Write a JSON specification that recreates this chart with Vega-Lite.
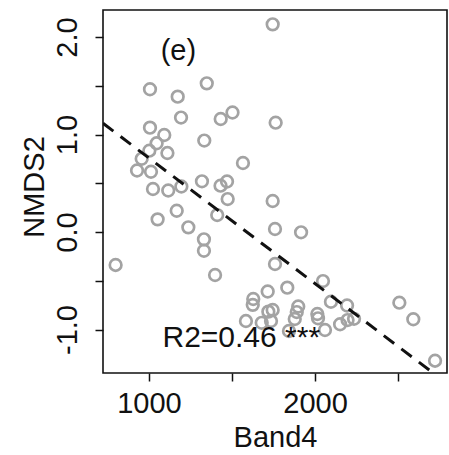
{
  "$schema": "https://vega.github.io/schema/vega-lite/v6.json",
  "width": 344,
  "height": 363,
  "autosize": {"type": "none"},
  "padding": {"left": 103, "top": 10, "right": 2, "bottom": 82},
  "background": "white",
  "config": {
    "view": {"stroke": "#111111", "strokeWidth": 1.6},
    "font": "Liberation Sans"
  },
  "datasets": {
    "points": [
      {"Band4": 1745, "NMDS2": 2.13},
      {"Band4": 1006, "NMDS2": 1.464},
      {"Band4": 1173, "NMDS2": 1.388},
      {"Band4": 1348, "NMDS2": 1.525},
      {"Band4": 1193, "NMDS2": 1.174},
      {"Band4": 1432, "NMDS2": 1.159},
      {"Band4": 1503, "NMDS2": 1.226},
      {"Band4": 1763, "NMDS2": 1.121},
      {"Band4": 1006, "NMDS2": 1.07},
      {"Band4": 1092, "NMDS2": 0.995},
      {"Band4": 1046, "NMDS2": 0.91},
      {"Band4": 1333, "NMDS2": 0.938},
      {"Band4": 1002, "NMDS2": 0.834},
      {"Band4": 1111, "NMDS2": 0.81},
      {"Band4": 956, "NMDS2": 0.751},
      {"Band4": 928, "NMDS2": 0.631},
      {"Band4": 1012, "NMDS2": 0.618},
      {"Band4": 1566, "NMDS2": 0.708},
      {"Band4": 1024, "NMDS2": 0.441},
      {"Band4": 1116, "NMDS2": 0.426},
      {"Band4": 1195, "NMDS2": 0.467},
      {"Band4": 1319, "NMDS2": 0.52},
      {"Band4": 1431, "NMDS2": 0.475},
      {"Band4": 1470, "NMDS2": 0.518},
      {"Band4": 1474, "NMDS2": 0.338},
      {"Band4": 1745, "NMDS2": 0.318},
      {"Band4": 1052, "NMDS2": 0.13},
      {"Band4": 1167, "NMDS2": 0.218},
      {"Band4": 1411, "NMDS2": 0.174},
      {"Band4": 1237, "NMDS2": 0.048},
      {"Band4": 1331, "NMDS2": -0.075},
      {"Band4": 1331, "NMDS2": -0.192},
      {"Band4": 1759, "NMDS2": 0.031},
      {"Band4": 1916, "NMDS2": -0.003},
      {"Band4": 799, "NMDS2": -0.338},
      {"Band4": 1759, "NMDS2": -0.328},
      {"Band4": 1398, "NMDS2": -0.441},
      {"Band4": 2048, "NMDS2": -0.503},
      {"Band4": 1715, "NMDS2": -0.61},
      {"Band4": 1833, "NMDS2": -0.571},
      {"Band4": 1628, "NMDS2": -0.687},
      {"Band4": 1625, "NMDS2": -0.747},
      {"Band4": 2096, "NMDS2": -0.715},
      {"Band4": 2193, "NMDS2": -0.754},
      {"Band4": 2508, "NMDS2": -0.725},
      {"Band4": 1745, "NMDS2": -0.8},
      {"Band4": 1719, "NMDS2": -0.817},
      {"Band4": 1899, "NMDS2": -0.764},
      {"Band4": 1890, "NMDS2": -0.821},
      {"Band4": 1878, "NMDS2": -0.892},
      {"Band4": 2014, "NMDS2": -0.841},
      {"Band4": 2018, "NMDS2": -0.885},
      {"Band4": 1584, "NMDS2": -0.913},
      {"Band4": 1679, "NMDS2": -0.931},
      {"Band4": 1735, "NMDS2": -0.913},
      {"Band4": 1843, "NMDS2": -1.015},
      {"Band4": 2060, "NMDS2": -1.005},
      {"Band4": 2151, "NMDS2": -0.946},
      {"Band4": 2196, "NMDS2": -0.903},
      {"Band4": 2235, "NMDS2": -0.89},
      {"Band4": 2592, "NMDS2": -0.895},
      {"Band4": 2723, "NMDS2": -1.32}
    ],
    "fit": [
      {"Band4": 723, "NMDS2": 1.115},
      {"Band4": 2800, "NMDS2": -1.559}
    ],
    "labels": [
      {"Band4": 1177, "NMDS2": 1.769, "label": "(e)", "size": 29},
      {"Band4": 1556, "NMDS2": -1.176, "label": "R2=0.46 ***", "size": 30}
    ]
  },
  "layer": [
    {
      "data": {"name": "points"},
      "mark": {"type": "point", "shape": "circle", "filled": false, "size": 135, "strokeWidth": 2.7, "color": "#a3a3a3", "opacity": 1},
      "encoding": {
        "x": {
          "field": "Band4", "type": "quantitative",
          "scale": {"domain": [723, 2795], "nice": false, "zero": false},
          "axis": {
            "values": [1000, 1500, 2000, 2500],
            "labelExpr": "datum.value == 1000 ? '1000' : datum.value == 2000 ? '2000' : ''",
            "title": "Band4",
            "grid": false, "domain": false,
            "tickSize": 8, "tickWidth": 1.5, "tickColor": "#111111",
            "labelFont": "Liberation Sans", "labelFontSize": 29, "labelColor": "#111111",
            "labelBaseline": "alphabetic", "labelPadding": 31.7, "labelAlign": "center",
            "labelFlush": false, "labelOverlap": false,
            "titleFont": "Liberation Sans", "titleFontSize": 29, "titleFontWeight": "normal", "titleColor": "#111111",
            "titleBaseline": "alphabetic", "titleY": 73, "titleX": 172, "titleAlign": "center"
          }
        },
        "y": {
          "field": "NMDS2", "type": "quantitative",
          "scale": {"domain": [-1.446, 2.277], "nice": false, "zero": false},
          "axis": {
            "values": [-1, -0.5, 0, 0.5, 1, 1.5, 2],
            "labelExpr": "datum.value == -1 ? '-1.0' : datum.value == 0 ? '0.0' : datum.value == 1 ? '1.0' : datum.value == 2 ? '2.0' : ''",
            "title": "NMDS2",
            "grid": false, "domain": false,
            "tickSize": 8, "tickWidth": 1.5, "tickColor": "#111111",
            "labelFont": "Liberation Sans", "labelFontSize": 29, "labelColor": "#111111",
            "labelAngle": 270, "labelAlign": "center", "labelBaseline": "alphabetic", "labelPadding": 18.5,
            "labelFlush": false, "labelOverlap": false,
            "titleFont": "Liberation Sans", "titleFontSize": 29, "titleFontWeight": "normal", "titleColor": "#111111",
            "titleAngle": 270, "titleAlign": "center", "titleBaseline": "alphabetic", "titleX": -59.7, "titleY": 176.5
          }
        }
      }
    },
    {
      "data": {"name": "fit"},
      "mark": {"type": "line", "color": "#111111", "strokeWidth": 3, "strokeDash": [13, 9], "clip": true},
      "encoding": {
        "x": {"field": "Band4", "type": "quantitative"},
        "y": {"field": "NMDS2", "type": "quantitative"}
      }
    },
    {
      "data": {"name": "labels"},
      "mark": {"type": "text", "font": "Liberation Sans", "align": "center", "baseline": "alphabetic", "color": "#111111"},
      "encoding": {
        "x": {"field": "Band4", "type": "quantitative"},
        "y": {"field": "NMDS2", "type": "quantitative"},
        "text": {"field": "label", "type": "nominal"},
        "size": {"field": "size", "type": "quantitative", "scale": null}
      }
    }
  ]
}
